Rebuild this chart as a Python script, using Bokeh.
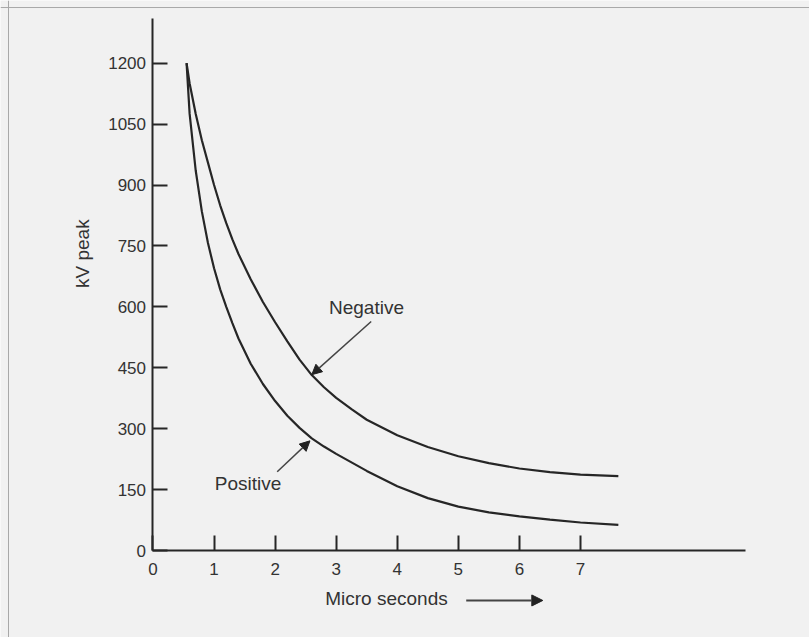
import math
from bokeh.plotting import figure
from bokeh.models import Range1d, FixedTicker, Label, Arrow, NormalHead, LinearAxis, Span
from bokeh.embed import file_html
from bokeh.resources import INLINE

# Data
pos_x = [0.55, 0.6, 0.7, 0.8, 0.9, 1.0, 1.1, 1.2, 1.3, 1.4, 1.6, 1.8, 2.0, 2.2, 2.4, 2.6, 2.8, 3.0,
         3.5, 4.0, 4.5, 5.0, 5.5, 6.0, 6.5, 7.0, 7.62]
pos_kv = [1200, 1075, 935, 835, 757, 695, 643, 600, 560, 522, 460, 410, 368, 332, 302, 276, 256, 238,
          196, 158, 129, 108, 94, 84, 76, 69, 63]
neg_x = [0.55, 0.6, 0.7, 0.8, 0.9, 1.0, 1.1, 1.2, 1.3, 1.4, 1.6, 1.8, 2.0, 2.2, 2.4, 2.6, 2.8, 3.0,
         3.25, 3.5, 4.0, 4.5, 5.0, 5.5, 6.0, 6.5, 7.0, 7.62]
neg_kv = [1200, 1150, 1075, 1010, 955, 900, 850, 806, 766, 730, 668, 612, 562, 515, 470, 432, 402, 376,
          348, 322, 284, 255, 232, 215, 202, 193, 187, 183]
x_ticks = [0, 1, 2, 3, 4, 5, 6, 7]
y_ticks = [0, 150, 300, 450, 600, 750, 900, 1050, 1200]
x_axis_end = 9.7
y_axis_end = 1310

BG = "#f1f1f1"
INK = "#262626"
TXT = "#333333"
FONT = "Liberation Sans"

W, H = 809, 637
# the frame fills the whole canvas; axes sit at x=0 / y=0 inside it
p = figure(width=W, height=H, output_backend="svg", toolbar_location=None,
           x_range=Range1d(-2.497, 10.750), y_range=Range1d(-214.2, 1354.3),
           x_axis_type=None, y_axis_type=None,
           min_border=0, min_border_left=0, min_border_right=0,
           min_border_top=0, min_border_bottom=0)
p.background_fill_color = BG
p.border_fill_color = BG
p.outline_line_color = None
p.grid.grid_line_color = None

xa = LinearAxis(fixed_location=0, bounds=(0, x_axis_end), ticker=FixedTicker(ticks=x_ticks))
ya = LinearAxis(fixed_location=0, bounds=(0, y_axis_end), ticker=FixedTicker(ticks=y_ticks))
for ax in (xa, ya):
    ax.axis_line_color = INK
    ax.axis_line_width = 2
    ax.major_tick_line_color = INK
    ax.major_tick_line_width = 2
    ax.major_tick_in = 15
    ax.major_tick_out = 0
    ax.minor_tick_line_color = None
    ax.major_label_text_font = FONT
    ax.major_label_text_font_size = "17px"
    ax.major_label_text_color = TXT
xa.major_label_standoff = 12
ya.major_label_standoff = 7
p.add_layout(xa, "below")
p.add_layout(ya, "left")

# page frame lines
p.add_layout(Span(location=1337, dimension="width", line_color="#a8a8a8", line_width=1))
p.add_layout(Span(location=-2.366, dimension="height", line_color="#a8a8a8", line_width=1))

p.line(pos_x, pos_kv, line_color=INK, line_width=2.2)
p.line(neg_x, neg_kv, line_color=INK, line_width=2.2)

def lab(text, x, y, angle=0, size="19px"):
    p.add_layout(Label(x=x, y=y, text=text, text_font=FONT, text_font_size=size,
                       text_color=TXT, text_align="center", text_baseline="middle",
                       angle=angle))

def arr(x0, y0, x1, y1, w=1.5, size=10):
    p.add_layout(Arrow(x_start=x0, y_start=y0, x_end=x1, y_end=y1,
                       line_color="#444444", line_width=w,
                       end=NormalHead(size=size, fill_color="#222222", line_color="#222222")))

lab("Negative", 3.496, 598)
arr(3.573, 564, 2.60, 433)
lab("Positive", 1.556, 165)
arr(2.034, 194, 2.57, 270)

lab("Micro seconds", 3.823, -118)
arr(5.129, -123, 6.383, -123, w=2, size=11)
lab("kV peak", -1.155, 731, angle=math.pi / 2)

open("out.html", "w").write(file_html(p, INLINE))
